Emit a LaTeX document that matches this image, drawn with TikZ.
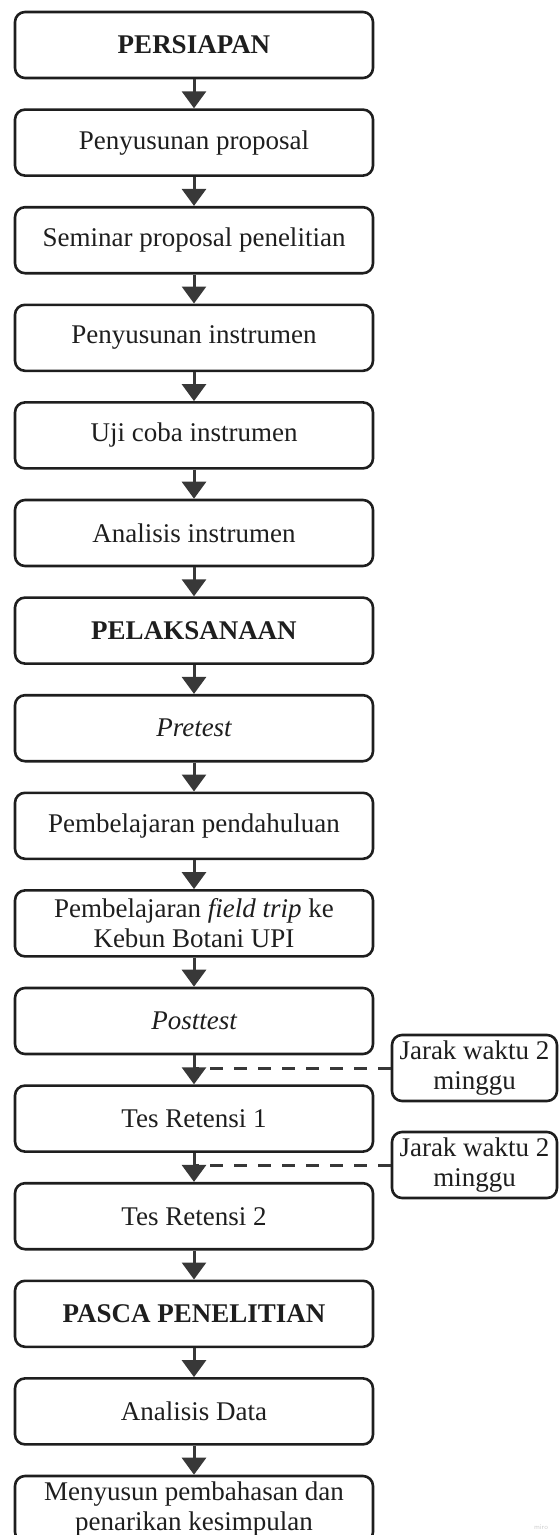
\documentclass[tikz,border=0pt]{standalone}
\usepackage{fontspec}
\setmainfont{Liberation Serif}
\usetikzlibrary{arrows.meta}
\definecolor{ink}{HTML}{1E1E1E}
\definecolor{arrowc}{HTML}{383838}
\definecolor{wm}{HTML}{CFCFCF}
\begin{document}
\begin{tikzpicture}[x=1pt,y=-1pt,
  box/.style={draw=ink, line width=2.6pt, rounded corners=10pt, minimum width=358pt, minimum height=66pt, inner sep=0pt, align=center, font=\fontsize{27}{30}\selectfont, text=ink},
  sidebox/.style={box, minimum width=165pt},
  flow/.style={draw=arrowc, line width=3pt, -{Triangle[width=24pt,length=17pt]}},
  gapline/.style={draw=arrowc, line width=3pt, dash pattern=on 13pt off 11pt}]
\useasboundingbox (0,0) rectangle (559,1535);
\node[box] (b0)  at (194,45)     {\bfseries PERSIAPAN};
\node[box] (b1)  at (194,142.6)  {Penyusunan proposal};
\node[box] (b2)  at (194,240.2)  {Seminar proposal penelitian};
\node[box] (b3)  at (194,337.8)  {Penyusunan instrumen};
\node[box] (b4)  at (194,435.4)  {Uji coba instrumen};
\node[box] (b5)  at (194,533)    {Analisis instrumen};
\node[box] (b6)  at (194,630.6)  {\bfseries PELAKSANAAN};
\node[box] (b7)  at (194,728.2)  {\itshape Pretest};
\node[box] (b8)  at (194,825.8)  {Pembelajaran pendahuluan};
\node[box] (b9)  at (194,923.4)  {Pembelajaran \textit{field trip} ke\\Kebun Botani UPI};
\node[box] (b10) at (194,1021)   {\itshape Posttest};
\node[box] (b11) at (194,1118.6) {Tes Retensi 1};
\node[box] (b12) at (194,1216.2) {Tes Retensi 2};
\node[box] (b13) at (194,1313.8) {\bfseries PASCA PENELITIAN};
\node[box] (b14) at (194,1411.4) {Analisis Data};
\node[box] (b15) at (194,1509)   {Menyusun pembahasan dan\\penarikan kesimpulan};
\node[sidebox] (s1) at (474.5,1068) {Jarak waktu 2\\minggu};
\node[sidebox] (s2) at (474.5,1165) {Jarak waktu 2\\minggu};
\foreach \a/\b in {b0/b1,b1/b2,b2/b3,b3/b4,b4/b5,b5/b6,b6/b7,b7/b8,b8/b9,b9/b10,b10/b11,b11/b12,b12/b13,b13/b14,b14/b15}
  \draw[flow] (\a.south) -- (\b.north);
\coordinate (m1) at (196,1068);
\coordinate (m2) at (196,1165);
\draw[gapline] (s1.west) -- (m1);
\draw[gapline] (s2.west) -- (m2);
\node[text=wm, font=\fontsize{7}{8}\sffamily] (wmk) at (541,1527) {miro};
\end{tikzpicture}
\end{document}
